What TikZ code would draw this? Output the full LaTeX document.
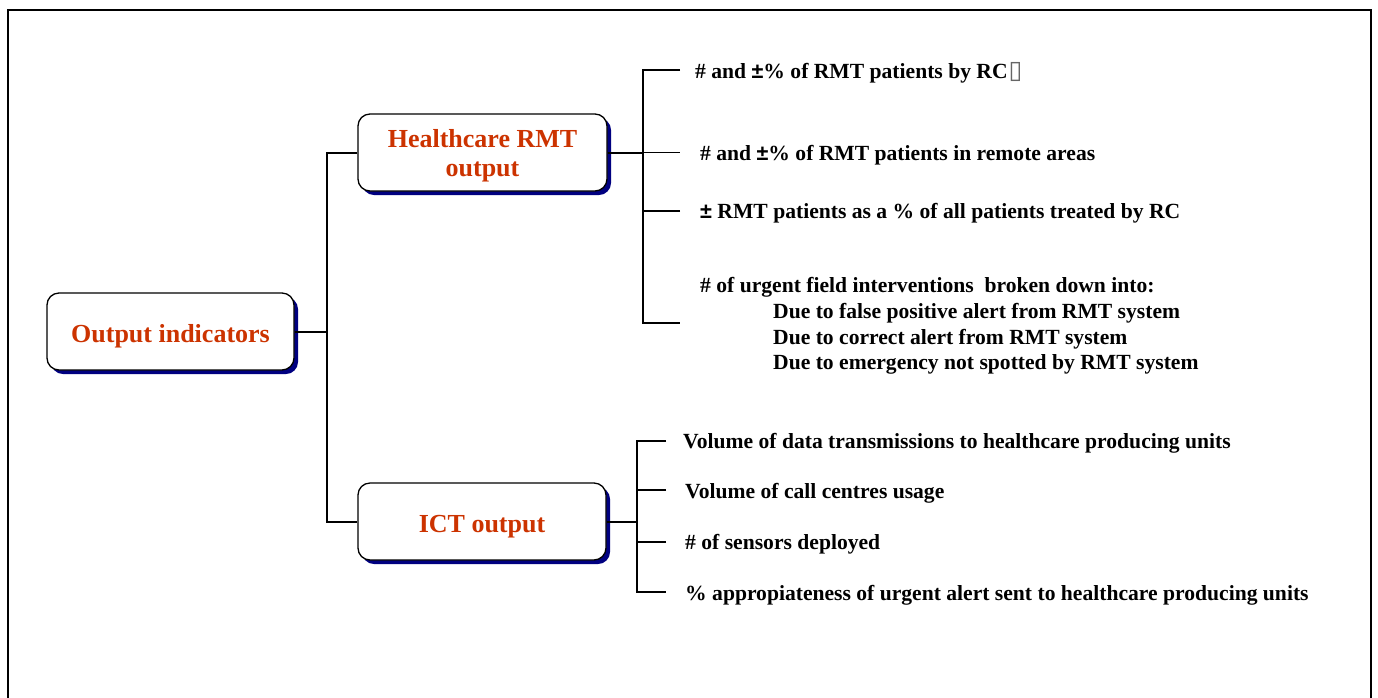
\documentclass[tikz,border=0pt]{standalone}
\usepackage{fontspec}
\setmainfont{Liberation Serif}
\newfontfamily\symfont{DejaVu Sans}
\newfontfamily\pmfont{Liberation Sans}
\usetikzlibrary{shadows}
\definecolor{titlered}{RGB}{204,51,0}
\definecolor{shadownavy}{RGB}{0,0,128}
\newcommand{\pmsign}{{\pmfont\bfseries ±}}
\newcommand{\tofu}{\hspace{1pt}{\symfont\fontsize{25}{25}\selectfont\color{black!60}▯}}
\tikzset{
  titlebox/.style={draw=black, line width=1.3pt, fill=white, rounded corners=12pt,
    minimum height=77pt, inner sep=0pt, align=center,
    font=\fontsize{26}{29}\selectfont\bfseries, text=titlered,
    drop shadow={shadow xshift=4pt, shadow yshift=-4pt, fill=shadownavy, opacity=1}},
  onelinetitle/.style={text height=26pt, text depth=5pt},
  twolinetitle/.style={text height=5pt, text depth=16pt},
  item/.style={anchor=base west, inner sep=0pt, font=\fontsize{21.6}{25}\selectfont\bfseries, text=black},
  link/.style={line width=2pt, draw=black},
  thinlink/.style={line width=1.4pt, draw=black},
}
\begin{document}
\begin{tikzpicture}[x=1pt, y=-1pt]
\useasboundingbox (0,0) rectangle (1378,697);
\fill[white] (0,0) rectangle (1378,697);
% frame
\draw[line width=1.8pt] (8,705) -- (8,10) -- (1371,10) -- (1371,705);

% main boxes
\node[titlebox, onelinetitle, minimum width=247pt] (oi) at (170.5,331.5) {Output indicators};
\node[titlebox, twolinetitle, minimum width=249pt] (hc) at (482.5,152.5)
  {\begin{tabular}[t]{@{}c@{}}Healthcare RMT\\output\end{tabular}};
\node[titlebox, onelinetitle, minimum width=248pt] (ict) at (482,521.5) {ICT output};

% first-level connectors
\coordinate (j1) at (327,331.5);
\draw[link] (oi.east) -- (j1);
\draw[link] (hc.west) -- (hc.west -| j1) -- (ict.west -| j1) -- (ict.west);

% healthcare items
\node[item] (h1) at (695,78) {\# and \pmsign\% of RMT patients by RC\tofu};
\node[item] (h2) at (700,160.5) {\# and \pmsign\% of RMT patients in remote areas};
\node[item] (h3) at (700,218.5) {\pmsign{} RMT patients as a \% of all patients treated by RC};
\node[item] (h4) at (700,292) {\# of urgent field interventions\ \ broken down into:};
\node[item] (h4a) at (773,318) {Due to false positive alert from RMT system};
\node[item] (h4b) at (773,344) {Due to correct alert from RMT system};
\node[item] (h4c) at (773,369) {Due to emergency not spotted by RMT system};

\coordinate (hv) at (643,152.5);
\coordinate (he1) at (680,70);
\coordinate (he2) at (680,152.5);
\coordinate (he3) at (680,211);
\coordinate (he4) at (680,323);
\draw[link] (hc.east) -- (hv);
\draw[thinlink] (hv) -- (he2);
\draw[thinlink] (he1) -- (he1 -| hv) -- (he4 -| hv) -- (he4);
\draw[thinlink] (he3) -- (he3 -| hv);

% ICT items
\node[item] (i1) at (683,448) {Volume of data transmissions to healthcare producing units};
\node[item] (i2) at (685,498) {Volume of call centres usage};
\node[item] (i3) at (685,549) {\# of sensors deployed};
\node[item] (i4) at (685,600) {\% appropiateness of urgent alert sent to healthcare producing units};

\coordinate (iv) at (637,521.5);
\coordinate (ie1) at (666,441);
\coordinate (ie2) at (666,490);
\coordinate (ie3) at (666,542);
\coordinate (ie4) at (666,592);
\draw[link] (ict.east) -- (iv);
\draw[thinlink] (ie1) -- (ie1 -| iv) -- (ie4 -| iv) -- (ie4);
\draw[thinlink] (ie2) -- (ie2 -| iv);
\draw[thinlink] (ie3) -- (ie3 -| iv);
\end{tikzpicture}
\end{document}
